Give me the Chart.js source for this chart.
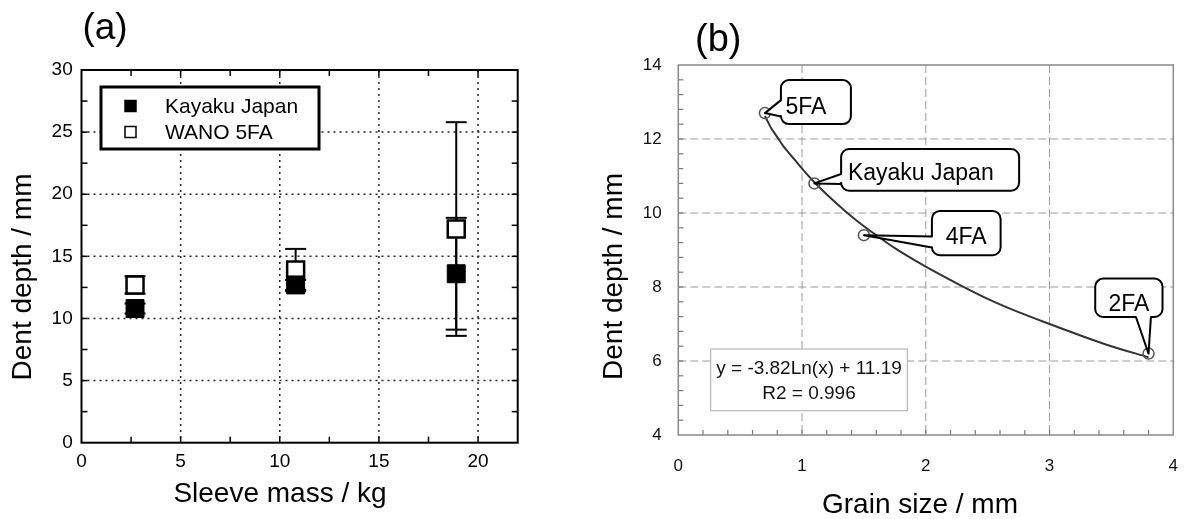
<!DOCTYPE html>
<html><head><meta charset="utf-8">
<script src="https://cdn.jsdelivr.net/npm/chart.js@4.4.1/dist/chart.umd.min.js"></script>
<style>
html,body{margin:0;padding:0;background:#fff;width:1199px;height:519px;overflow:hidden}
#ca{position:absolute;left:0;top:0}
#cb{position:absolute;left:590px;top:0}
</style></head><body>
<canvas id="ca" width="590" height="519"></canvas>
<canvas id="cb" width="609" height="519"></canvas>
<script>
// ---------- data: panel (a)
const sleeveMass = [2.7, 10.8, 18.9];
const kayakuDepth = [10.8, 12.7, 13.6];
const kayakuErr = [0.4, 0.4, 4.5];
const wanoDepth = [12.7, 13.9, 17.2];
const wanoErr = [0.7, 1.7, 8.6];
const seriesNamesA = ['Kayaku Japan', 'WANO 5FA'];
const xTicksA = [0, 5, 10, 15, 20];
const yTicksA = [0, 5, 10, 15, 20, 25, 30];
const titlesA = ['(a)', 'Sleeve mass / kg', 'Dent depth / mm'];

// ---------- data: panel (b)
const grainSize = [0.7, 1.1, 1.5, 3.8];
const dentDepthB = [12.7, 10.8, 9.4, 6.2];
const pointLabelsB = ['5FA', 'Kayaku Japan', '4FA', '2FA'];
const fitX = [0.7, 0.75, 0.8, 0.85, 0.9, 0.95, 1.0, 1.1, 1.2, 1.35, 1.5, 1.6, 1.75, 2.0, 2.25, 2.5, 2.75, 3.0, 3.3, 3.5, 3.8];
const fitY = [12.62, 12.3, 12.05, 11.8, 11.6, 11.4, 11.2, 10.83, 10.5, 10.05, 9.64, 9.4, 9.05, 8.55, 8.1, 7.68, 7.32, 7.0, 6.63, 6.4, 6.1];
const fitText = ['y = -3.82Ln(x) + 11.19', 'R2 = 0.996'];
const xTicksB = [0, 1, 2, 3, 4];
const yTicksB = [4, 6, 8, 10, 12, 14];
const titlesB = ['(b)', 'Grain size / mm', 'Dent depth / mm'];

const FONT = '"Liberation Sans", Arial, Helvetica, sans-serif';

function seg(ctx, x1, y1, x2, y2) { ctx.beginPath(); ctx.moveTo(x1, y1); ctx.lineTo(x2, y2); ctx.stroke(); }
function rotText(ctx, text, x, y) {
  ctx.save(); ctx.translate(x, y); ctx.rotate(-Math.PI / 2);
  ctx.textAlign = 'center'; ctx.textBaseline = 'alphabetic'; ctx.fillText(text, 0, 0); ctx.restore();
}

// ---------- panel (a) plugin
const plugA = {
  id: 'plugA',
  beforeDatasetsDraw(chart) {
    const { ctx, chartArea: ca, scales: { x, y } } = chart;
    ctx.save();
    ctx.strokeStyle = '#222'; ctx.lineWidth = 1.5; ctx.setLineDash([2, 4]);
    xTicksA.forEach(v => { if (v > x.min && v < x.max) { const p = x.getPixelForValue(v); seg(ctx, p, ca.top, p, ca.bottom); } });
    yTicksA.forEach(v => { if (v > y.min && v < y.max) { const p = y.getPixelForValue(v); seg(ctx, ca.left, p, ca.right, p); } });
    ctx.setLineDash([]);
    ctx.strokeStyle = '#000'; ctx.lineWidth = 1.5;
    const sx = (xTicksA[1] - xTicksA[0]) / 2, sy = (yTicksA[1] - yTicksA[0]) / 2, tl = 6;
    for (let v = x.min + sx; v < x.max; v += sx) {
      const p = x.getPixelForValue(v);
      seg(ctx, p, ca.bottom, p, ca.bottom - tl); seg(ctx, p, ca.top, p, ca.top + tl);
    }
    for (let v = y.min + sy; v < y.max; v += sy) {
      const p = y.getPixelForValue(v);
      seg(ctx, ca.left, p, ca.left + tl, p); seg(ctx, ca.right, p, ca.right - tl, p);
    }
    ctx.lineWidth = 2; ctx.strokeRect(ca.left, ca.top, ca.width, ca.height);
    ctx.lineWidth = 2; ctx.strokeStyle = '#000';
    const cap = 10.5;
    [[wanoDepth, wanoErr], [kayakuDepth, kayakuErr]].forEach(([vals, errs]) => {
      vals.forEach((v, i) => {
        const px = x.getPixelForValue(sleeveMass[i]);
        const t = y.getPixelForValue(v + errs[i]), b = y.getPixelForValue(v - errs[i]);
        seg(ctx, px, t, px, b); seg(ctx, px - cap, t, px + cap, t); seg(ctx, px - cap, b, px + cap, b);
      });
    });
    ctx.restore();
  },
  afterDraw(chart) {
    const { ctx } = chart;
    ctx.save();
    ctx.fillStyle = '#fff'; ctx.fillRect(101, 87, 218, 62);
    ctx.strokeStyle = '#000'; ctx.lineWidth = 3; ctx.strokeRect(101, 87, 218, 62);
    const ds = chart.data.datasets;
    const rows = [106, 132];
    ds.forEach((d, i) => {
      ctx.fillStyle = d.backgroundColor; ctx.strokeStyle = d.borderColor; ctx.lineWidth = 1.5;
      ctx.fillRect(125, rows[i] - 5.5, 11, 11); ctx.strokeRect(125, rows[i] - 5.5, 11, 11);
      ctx.fillStyle = '#000'; ctx.font = '21px ' + FONT; ctx.textAlign = 'left'; ctx.textBaseline = 'middle';
      ctx.fillText(d.label, 165, rows[i] + 1);
    });
    ctx.fillStyle = '#000';
    ctx.font = '37px ' + FONT; ctx.textAlign = 'center'; ctx.textBaseline = 'alphabetic';
    ctx.fillText(titlesA[0], 105, 39);
    ctx.font = '28px ' + FONT;
    ctx.fillText(titlesA[1], 280, 502);
    rotText(ctx, titlesA[2], 31, 277);
    ctx.restore();
  }
};

new Chart(document.getElementById('ca'), {
  type: 'scatter',
  data: {
    datasets: [
      { label: seriesNamesA[0], data: sleeveMass.map((m, i) => ({ x: m, y: kayakuDepth[i] })),
        pointStyle: 'rect', pointRadius: 12.7, backgroundColor: '#000', borderColor: '#000', borderWidth: 1 },
      { label: seriesNamesA[1], data: sleeveMass.map((m, i) => ({ x: m, y: wanoDepth[i] })),
        pointStyle: 'rect', pointRadius: 12, backgroundColor: '#fff', borderColor: '#000', borderWidth: 2.5 }
    ]
  },
  options: {
    responsive: false, animation: false, events: [], devicePixelRatio: 1,
    layout: { padding: { left: 0, top: 70, right: 72.3, bottom: 0 } },
    plugins: { legend: { display: false }, tooltip: { enabled: false } },
    scales: {
      x: { type: 'linear', min: 0, max: 22,
        afterBuildTicks: s => { s.ticks = xTicksA.map(v => ({ value: v })); },
        afterFit: s => { s.height = 76.3; },
        grid: { display: false, drawTicks: false }, border: { display: false },
        ticks: { color: '#000', font: { family: FONT, size: 19 }, padding: 7.6, maxRotation: 0, autoSkip: false } },
      y: { type: 'linear', min: 0, max: 30,
        afterBuildTicks: s => { s.ticks = yTicksA.map(v => ({ value: v })); },
        afterFit: s => { s.width = 81.5; },
        grid: { display: false, drawTicks: false }, border: { display: false },
        ticks: { color: '#000', font: { family: FONT, size: 19 }, padding: 8.8, autoSkip: false } }
    }
  },
  plugins: [plugA]
});

// ---------- panel (b) plugin
function callout(ctx, bx, by, w, h, r, side, n1, n2, tx, ty) {
  ctx.beginPath();
  ctx.moveTo(bx + r, by);
  ctx.lineTo(bx + w - r, by);
  ctx.arcTo(bx + w, by, bx + w, by + r, r);
  ctx.lineTo(bx + w, by + h - r);
  ctx.arcTo(bx + w, by + h, bx + w - r, by + h, r);
  if (side === 'bottom') { ctx.lineTo(n2, by + h); ctx.lineTo(tx, ty); ctx.lineTo(n1, by + h); }
  ctx.lineTo(bx + r, by + h);
  ctx.arcTo(bx, by + h, bx, by + h - r, r);
  if (side === 'left') { ctx.lineTo(bx, n2); ctx.lineTo(tx, ty); ctx.lineTo(bx, n1); }
  ctx.lineTo(bx, by + r);
  ctx.arcTo(bx, by, bx + r, by, r);
  ctx.closePath();
  ctx.fillStyle = '#fff'; ctx.fill();
  ctx.strokeStyle = '#000'; ctx.lineWidth = 2; ctx.lineJoin = 'round'; ctx.stroke();
}
const calloutGeom = [
  { bx: 16, by: -33, w: 70, h: 44, side: 'left', n1: -13, n2: 3.5, tx: 20.5, ty: -5, align: 'left' },
  { bx: 26.7, by: -34.4, w: 178, h: 41.7, side: 'left', n1: -9.4, n2: 0.6, tx: 33.5, ty: -9.5, align: 'left' },
  { bx: 68, by: -24.3, w: 68.7, h: 44.3, side: 'left', n1: 1.3, n2: 12.3, tx: 102.3, ty: 2.5, align: 'center' },
  { bx: -53.3, by: -75, w: 67.3, h: 38.4, side: 'bottom', n1: -12.6, n2: 2.4, tx: -19.6, ty: -49, align: 'center' }
];
const plugB = {
  id: 'plugB',
  beforeDatasetsDraw(chart) {
    const { ctx, chartArea: ca, scales: { x, y } } = chart;
    ctx.save();
    ctx.strokeStyle = '#9a9a9a'; ctx.lineWidth = 1; ctx.setLineDash([8, 4]);
    xTicksB.forEach(v => { if (v > x.min && v < x.max) { const p = x.getPixelForValue(v); seg(ctx, p, ca.top, p, ca.bottom); } });
    yTicksB.forEach(v => { if (v > y.min && v < y.max) { const p = y.getPixelForValue(v); seg(ctx, ca.left, p, ca.right, p); } });
    ctx.setLineDash([]);
    ctx.strokeStyle = '#777'; ctx.lineWidth = 1.2;
    const sx = (xTicksB[1] - xTicksB[0]) / 5, sy = (yTicksB[1] - yTicksB[0]) / 5, tl = 5;
    for (let k = 1; x.min + k * sx < x.max - 1e-9; k++) {
      const p = x.getPixelForValue(x.min + k * sx); seg(ctx, p, ca.bottom, p, ca.bottom - tl);
    }
    for (let k = 1; y.min + k * sy < y.max - 1e-9; k++) {
      const p = y.getPixelForValue(y.min + k * sy); seg(ctx, ca.left, p, ca.left + tl, p);
    }
    ctx.strokeStyle = '#888'; ctx.lineWidth = 1.5; ctx.strokeRect(ca.left, ca.top, ca.width, ca.height);
    ctx.restore();
  },
  afterDatasetsDraw(chart) {
    const { ctx, scales: { x, y } } = chart;
    ctx.save();
    pointLabelsB.forEach((lab, i) => {
      const g = calloutGeom[i];
      const px = x.getPixelForValue(grainSize[i]), py = y.getPixelForValue(dentDepthB[i]);
      if (g.side === 'left') callout(ctx, px + g.bx, py + g.by, g.w, g.h, 8, 'left', py + g.n1, py + g.n2, px, py);
      else callout(ctx, px + g.bx, py + g.by, g.w, g.h, 8, 'bottom', px + g.n1, px + g.n2, px, py);
      ctx.fillStyle = '#000'; ctx.font = '23px ' + FONT; ctx.textAlign = g.align; ctx.textBaseline = 'middle';
      ctx.fillText(lab, px + g.tx, py + g.ty);
    });
    ctx.restore();
  },
  afterDraw(chart) {
    const { ctx, chartArea: ca } = chart;
    ctx.save();
    const ex = ca.left + 32.4, ey = ca.top + 284, ew = 196.6, eh = 61.7;
    ctx.fillStyle = '#fff'; ctx.fillRect(ex, ey, ew, eh);
    ctx.strokeStyle = '#aaa'; ctx.lineWidth = 1; ctx.strokeRect(ex, ey, ew, eh);
    ctx.fillStyle = '#111'; ctx.font = '19px ' + FONT; ctx.textAlign = 'center'; ctx.textBaseline = 'middle';
    ctx.fillText(fitText[0], ex + ew / 2, ey + 20);
    ctx.fillText(fitText[1], ex + ew / 2, ey + 45);
    ctx.fillStyle = '#000';
    ctx.font = '38px ' + FONT; ctx.textAlign = 'center'; ctx.textBaseline = 'alphabetic';
    ctx.fillText(titlesB[0], 128.3, 51);
    ctx.font = '28px ' + FONT;
    ctx.fillText(titlesB[1], 330, 512.7);
    rotText(ctx, titlesB[2], 31.7, 276.5);
    ctx.restore();
  }
};

new Chart(document.getElementById('cb'), {
  type: 'scatter',
  data: {
    datasets: [
      { label: 'Measured', data: grainSize.map((g, i) => ({ x: g, y: dentDepthB[i] })),
        pointStyle: 'circle', pointRadius: 5.5, borderColor: '#555', borderWidth: 1.5, backgroundColor: 'rgba(255,255,255,0)' },
      { label: 'Log fit', data: fitX.map((g, i) => ({ x: g, y: fitY[i] })), showLine: true, pointRadius: 0,
        borderColor: '#333', borderWidth: 2, cubicInterpolationMode: 'monotone', fill: false }
    ]
  },
  options: {
    responsive: false, animation: false, events: [], devicePixelRatio: 1,
    layout: { padding: { left: 0, top: 65, right: 9, bottom: 0 } },
    plugins: { legend: { display: false }, tooltip: { enabled: false } },
    scales: {
      x: { type: 'linear', min: 0, max: 4,
        afterBuildTicks: s => { s.ticks = xTicksB.map(v => ({ value: v })); },
        afterFit: s => { s.height = 84; },
        grid: { display: false, drawTicks: false }, border: { display: false },
        ticks: { color: '#111', font: { family: FONT, size: 17 }, padding: 21, maxRotation: 0, autoSkip: false } },
      y: { type: 'linear', min: 4, max: 14,
        afterBuildTicks: s => { s.ticks = yTicksB.map(v => ({ value: v })); },
        afterFit: s => { s.width = 88.3; },
        grid: { display: false, drawTicks: false }, border: { display: false },
        ticks: { color: '#111', font: { family: FONT, size: 17 }, padding: 16.6, autoSkip: false } }
    }
  },
  plugins: [plugB]
});
</script>
</body></html>
